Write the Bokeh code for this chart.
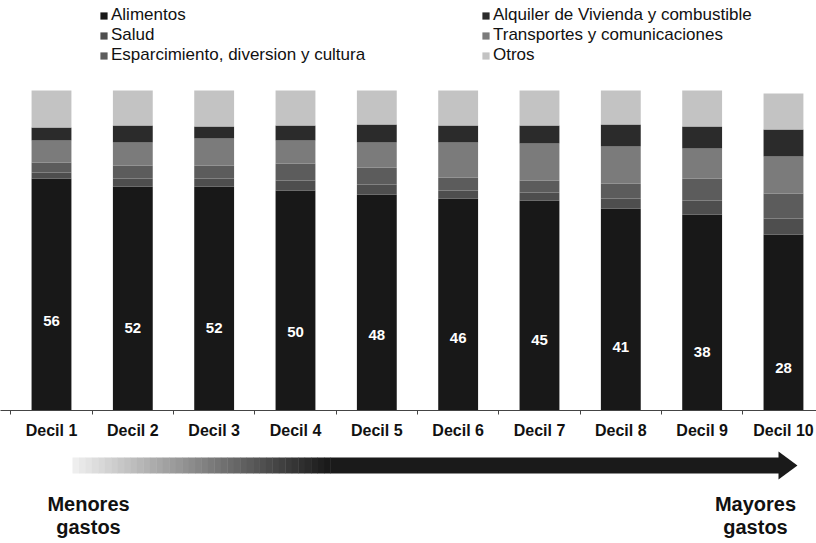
import numpy as np
from bokeh.plotting import figure
from bokeh.models import Range1d, FixedTicker, Legend, LegendItem, Label
from bokeh.layouts import column
from bokeh.embed import file_html
from bokeh.resources import INLINE
from bokeh.core.properties import value

# ---------------- data ----------------
categories = ["Decil 1", "Decil 2", "Decil 3", "Decil 4", "Decil 5",
              "Decil 6", "Decil 7", "Decil 8", "Decil 9", "Decil 10"]
alimentos = [56, 52, 52, 50, 48, 46, 45, 41, 38, 28]
salud = [3, 4, 4, 5, 5, 4, 4, 5, 7, 8]
esparcimiento = [5, 6.5, 6.5, 8.5, 8.5, 6.5, 6, 7.5, 11, 12.5]
transportes = [11, 11.5, 13.5, 11.5, 12.5, 17.5, 18.5, 18.5, 15, 18.5]
alquiler = [6.5, 8.5, 6, 7.5, 9, 8.5, 9, 11, 11, 13.5]
otros = [18.5, 17.5, 18, 17.5, 17, 17.5, 17.5, 17, 18, 18]

series_names = ["Alimentos", "Salud", "Esparcimiento, diversion y cultura",
                "Transportes y comunicaciones", "Alquiler de Vivienda y combustible", "Otros"]
series_values = [alimentos, salud, esparcimiento, transportes, alquiler, otros]
series_colors = ["#181818", "#4e4e4e", "#5c5c5c", "#7b7b7b", "#2b2b2b", "#c3c3c3"]
legend_order = ["Alimentos", "Salud", "Esparcimiento, diversion y cultura",
                "Alquiler de Vivienda y combustible", "Transportes y comunicaciones", "Otros"]

BASELINE = -60          # the bars in the original are drawn from below zero
FONT = "Liberation Sans"

x = np.arange(1, len(categories) + 1)
x_range = Range1d(0.373, 10.406)

p = figure(width=816, height=441, x_range=x_range, y_range=Range1d(BASELINE, 145),
           output_backend="svg", toolbar_location=None, y_axis_location=None,
           min_border=0, min_border_left=0, min_border_right=0, min_border_top=0,
           outline_line_color=None, background_fill_color="white")
p.xgrid.visible = False
p.ygrid.visible = False

renderers = {}
cum = np.zeros(len(x))
for i, (name, vals, col) in enumerate(zip(series_names, series_values, series_colors)):
    top = cum + np.array(vals, dtype=float)
    bot = np.full(len(x), float(BASELINE)) if i == 0 else cum.copy()
    r = p.vbar(x=x, bottom=bot, top=top, width=0.49, fill_color=col, line_color=None)
    renderers[name] = r
    cum = top

p.text(x=x, y=0.84 * np.array(alimentos) - 62.5, text=[str(v) for v in alimentos],
       text_color="white", text_font=value(FONT), text_font_style="bold",
       text_font_size="15px", text_align="center", text_baseline="middle")

ax = p.xaxis[0]
ax.ticker = FixedTicker(ticks=[int(i) for i in x],
                        minor_ticks=[float(i) - 0.5 for i in x] + [float(x[-1]) + 0.5])
ax.major_label_overrides = {int(i): c for i, c in zip(x, categories)}
ax.major_tick_line_color = None
ax.major_tick_out = 0
ax.major_tick_in = 0
ax.minor_tick_line_color = "#444444"
ax.minor_tick_out = 4
ax.minor_tick_in = 0
ax.axis_line_color = "#444444"
ax.major_label_standoff = 7
ax.major_label_text_font = FONT
ax.major_label_text_font_style = "bold"
ax.major_label_text_font_size = "16px"
ax.major_label_text_color = "#111111"

legend = Legend(items=[LegendItem(label=n, renderers=[renderers[n]]) for n in legend_order],
                location=(99, 345), ncols=2, orientation="vertical",
                glyph_width=9, glyph_height=9, label_standoff=3,
                label_width=370, spacing=0, padding=0, margin=0,
                label_text_font=FONT, label_text_font_size="17px",
                label_text_color="#111111",
                background_fill_alpha=0, border_line_color=None)
p.add_layout(legend)

# ---------------- bottom strip: arrow and captions ----------------
p2 = figure(width=816, height=102, x_range=x_range, y_range=Range1d(102, 0),
            output_backend="svg", toolbar_location=None,
            x_axis_location=None, y_axis_location=None,
            min_border=0, min_border_left=0, min_border_right=0,
            outline_line_color=None, background_fill_color="white")
p2.grid.visible = False

fade_start, fade_end, head_base, head_tip = 1.258, 4.43, 9.939, 10.172
n_steps = 40
edges = np.linspace(fade_start, fade_end, n_steps + 1)
shades = np.linspace(238, 26, n_steps).astype(int)
p2.quad(left=edges[:-1], right=edges[1:] + 0.005, top=np.full(n_steps, 16.0),
        bottom=np.full(n_steps, 32.0),
        fill_color=["#%02x%02x%02x" % (s, s, s) for s in shades], line_color=None)
p2.quad(left=[fade_end], right=[head_base + 0.01], top=[16.0], bottom=[32.0],
        fill_color="#1a1a1a", line_color=None)
p2.patch(x=[head_base, head_tip, head_base], y=[10.0, 24.0, 38.0],
         fill_color="#1a1a1a", line_color=None)

for txt, xx, yy in [("Menores", 1.455, 62), ("gastos", 1.455, 85),
                    ("Mayores", 9.656, 62), ("gastos", 9.656, 85)]:
    p2.add_layout(Label(x=xx, y=yy, text=txt, text_align="center", text_baseline="middle",
                        text_font=FONT, text_font_style="bold", text_font_size="20px",
                        text_color="#111111"))

layout = column(p, p2, spacing=0)
open("out.html", "w").write(file_html(layout, INLINE))
